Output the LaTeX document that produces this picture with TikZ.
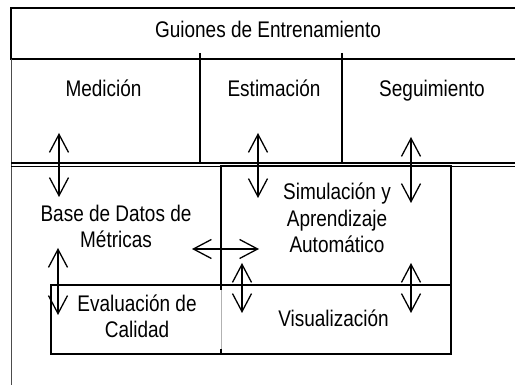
\documentclass[tikz,border=0pt]{standalone}
\usepackage{fontspec}
\setmainfont{Liberation Sans}[FakeStretch=0.84]
\usetikzlibrary{arrows.meta}

\begin{document}
\begin{tikzpicture}[x=1pt,y=-1pt,font=\fontsize{22.6}{26.5}\selectfont,
  >={Straight Barb[length=18pt,width=19pt]},
  caja/.style={line width=2pt},
  flecha/.style={<->,line width=1.3pt}]
\useasboundingbox (0,0) rectangle (515,387);
%\draw[help lines,step=20] (0,0) grid (515,387);
\draw[caja] (515,8) -- (11,8) -- (11,59) -- (515,59);
\draw[line width=1pt,black!70] (11,59) -- (11,385);
\draw[line width=1.5pt] (200,53) -- (200,163) (342,53) -- (342,163);
\draw[line width=1.3pt] (11,163) -- (515,163) (11,166.5) -- (515,166.5);
\draw[caja] (221,166) rectangle (451,285);
\draw[caja] (221,354) -- (51,354) -- (51,285) -- (221,285) -- (451,285) -- (451,354) -- (221,354);
\draw[line width=.8pt,black!30] (221,287) -- (221,352);
\draw[caja] (221,285) -- (221,290) (221,349) -- (221,354);
% textos (base = ultima linea)
\node[anchor=base] (guiones) at (268,38) {Guiones de Entrenamiento};
\node[anchor=base] (medicion) at (103.5,97) {Medición};
\node[anchor=base] (estimacion) at (274,97) {Estimación};
\node[anchor=base] (seguimiento) at (432,97) {Seguimiento};
\node[anchor=base,align=center] (basedatos) at (116,248) {Base de Datos de\\Métricas};
\node[anchor=base,align=center] (simulacion) at (337,253) {Simulación y\\Aprendizaje\\Automático};
\node[anchor=base,align=center] (evaluacion) at (137,338) {Evaluación de\\Calidad};
\node[anchor=base] (visualizacion) at (333.5,327) {Visualización};
% flechas
\coordinate (med-a) at (59,133);   \coordinate (med-b) at (59,197);
\coordinate (est-a) at (258,133);  \coordinate (est-b) at (258,198);
\coordinate (seg-a) at (411,137);  \coordinate (seg-b) at (411,203);
\coordinate (bd-a) at (58,248);    \coordinate (bd-b) at (58,315);
\coordinate (bd-c) at (192,249);   \coordinate (sim-a) at (259,249);
\coordinate (sim-b) at (242,263);  \coordinate (vis-a) at (242,313);
\coordinate (sim-c) at (411,263);  \coordinate (vis-b) at (411,313);
\draw[flecha] (med-a) -- (med-b);
\draw[flecha] (est-a) -- (est-b);
\draw[flecha] (seg-a) -- (seg-b);
\draw[flecha] (bd-a) -- (bd-b);
\draw[flecha] (bd-c) -- (sim-a);
\draw[flecha] (sim-b) -- (vis-a);
\draw[flecha] (sim-c) -- (vis-b);
\end{tikzpicture}
\end{document}
